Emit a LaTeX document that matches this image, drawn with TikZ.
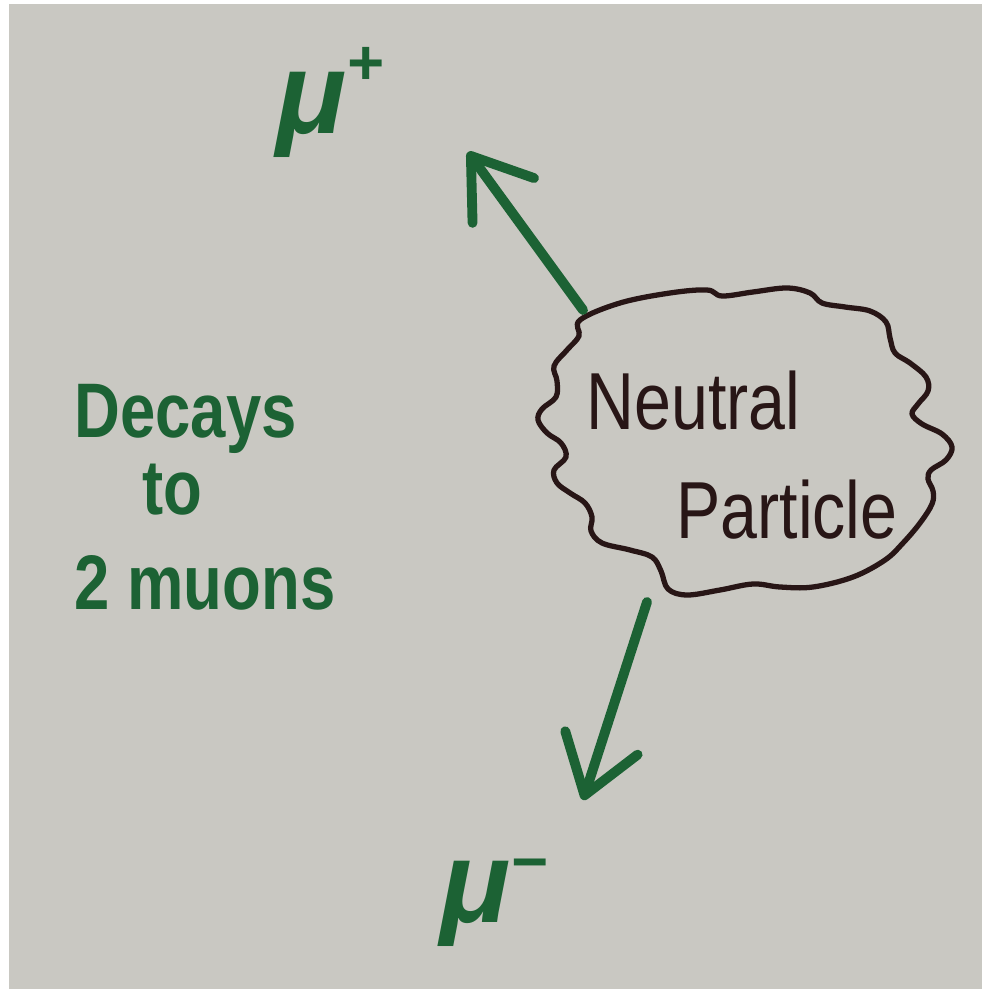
\documentclass[tikz,border=0pt]{standalone}
\usepackage{fontspec}
\setmainfont{Liberation Sans}
\newfontfamily\handfont[FakeStretch=0.82]{Liberation Sans}
\usetikzlibrary{arrows.meta}
\definecolor{paper}{RGB}{201,200,194}
\definecolor{marker}{RGB}{28,98,52}
\definecolor{pen}{RGB}{40,22,22}

\begin{document}
\begin{tikzpicture}[
    x=0.01cm, y=-0.01cm,
    >={Straight Barb[length=5.5mm, width=7.6mm, round]},
    muarrow/.style={->, draw=marker, line width=2.8pt, line cap=round, line join=round},
    mulabel/.style={text=marker, inner sep=0pt, anchor=base west, font=\fontsize{33}{33}\selectfont\bfseries\itshape},
    note/.style={text=marker, align=left, font=\handfont\fontsize{22}{27}\selectfont\bfseries},
    blob/.style={draw=pen, line width=1.5pt, line join=round},
    inside/.style={text=pen, align=left, font=\handfont\fontsize{23}{31}\selectfont}
  ]
  \fill[white] (0,0) rectangle (982,989);
  \fill[paper] (9,4) rectangle (982,989);

  % wavy outline round the particle
  \draw[blob] plot[smooth cycle, tension=0.6] coordinates {
    (580,320) (620,303) (670,293) (707,290) (722,296) (753,292) (787,288)
    (810,293) (822,303) (845,307) (870,311) (886,322) (890,338) (895,353)
    (910,363) (926,377) (928,391) (918,404) (912,414) (922,424) (942,434)
    (952,447) (946,460) (931,470) (928,479) (933,491) (932,504) (920,523)
    (903,543) (885,560) (853,577) (813,587) (780,587) (753,584) (720,590)
    (687,595) (668,589) (661,571) (652,557) (630,550) (602,543) (591,531)
    (592,517) (585,503) (570,493) (557,483) (554,470) (566,457) (561,443)
    (547,433) (538,420) (542,409) (556,397) (557,381) (554,366) (567,350)
    (579,336)};

  \node[inside] (neutral) at (742,455) {Neutral\\\hspace*{0.9cm}Particle};

  \node[note] (decays) at (205,497) {Decays\\[-5pt]\hspace*{0.68cm}to\\2 muons};

  \node[mulabel] (muplus) at (276,134) {μ\raisebox{14pt}{\fontsize{18}{18}\selectfont +}};
  \node[mulabel] (muminus) at (440,922) {μ\raisebox{11pt}{\fontsize{18}{18}\selectfont −}};

  % arrow ends
  \coordinate (src1) at (583,310);
  \coordinate (tip1) at (468,152);
  \coordinate (src2) at (647,602);
  \coordinate (tip2) at (583,800);

  \draw[muarrow] (src1) -- (tip1);
  \draw[muarrow] (src2) -- (tip2);
\end{tikzpicture}
\end{document}
